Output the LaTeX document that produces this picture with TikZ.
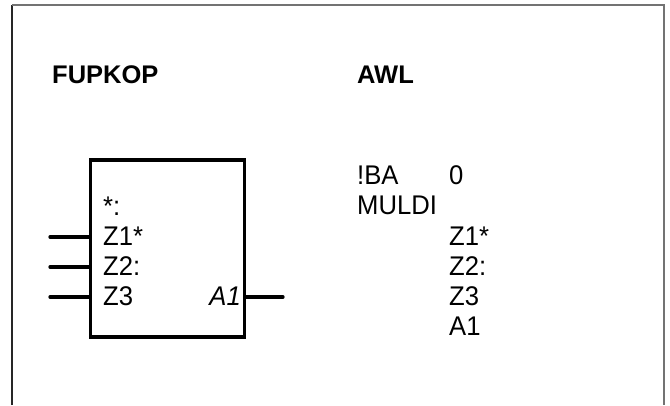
\documentclass[tikz,border=0pt]{standalone}
\usepackage{graphicx}
\usepackage{fontspec}
\setmainfont{Liberation Sans}
\newcommand{\cnd}[1]{\scalebox{0.95}[1]{#1}}
\begin{document}
\begin{tikzpicture}[x=1pt,y=-1pt,
  txt/.style={anchor=base west,inner sep=0pt,font=\fontsize{27}{30}\selectfont},
  head/.style={anchor=base west,inner sep=0pt,font=\fontsize{25.5}{30}\selectfont\bfseries},
  pin/.style={line width=3.3pt,line cap=round},
  fbox/.style={draw,line width=3.3pt,minimum width=154pt,minimum height=177pt,inner sep=0pt}]
\useasboundingbox (0,0) rectangle (670,405);
% frame (open at bottom)
\draw[line width=1.5pt,black!85] (12,405) -- (12,5);
\draw[line width=1.5pt,black!55] (12,5) -- (664,5) -- (664,405);
% headings
\node[head] (hf) at (52,83) {FUPKOP};
\node[head] (ha) at (357,83) {AWL};
% block
\node[fbox] (blk) at (167.5,248.5) {};
\coordinate (i1) at (50,237);
\coordinate (i2) at (50,267);
\coordinate (i3) at (50,297);
\coordinate (o1) at (283,297);
\draw[pin] (i1) -- (i1 -| blk.west);
\draw[pin] (i2) -- (i2 -| blk.west);
\draw[pin] (i3) -- (i3 -| blk.west);
\draw[pin] (o1 -| blk.east) -- (o1);
\node[txt] (ls) at (103,215) {\cnd{*:}};
\node[txt] (l1) at (103,245) {\cnd{Z1*}};
\node[txt] (l2) at (103,275) {\cnd{Z2:}};
\node[txt] (l3) at (103,305) {\cnd{Z3}};
\node[txt,anchor=base east] (lo) at (241,305) {\cnd{\itshape A1}};
% AWL listing
\node[txt] (r0) at (357,184) {\cnd{!BA}};
\node[txt] (r0b) at (449,184) {\cnd{0}};
\node[txt] (r1) at (357,214) {\cnd{MULDI}};
\node[txt] (r2) at (449,245) {\cnd{Z1*}};
\node[txt] (r3) at (449,275) {\cnd{Z2:}};
\node[txt] (r4) at (449,305) {\cnd{Z3}};
\node[txt] (r5) at (449,335) {\cnd{A1}};
\end{tikzpicture}
\end{document}
